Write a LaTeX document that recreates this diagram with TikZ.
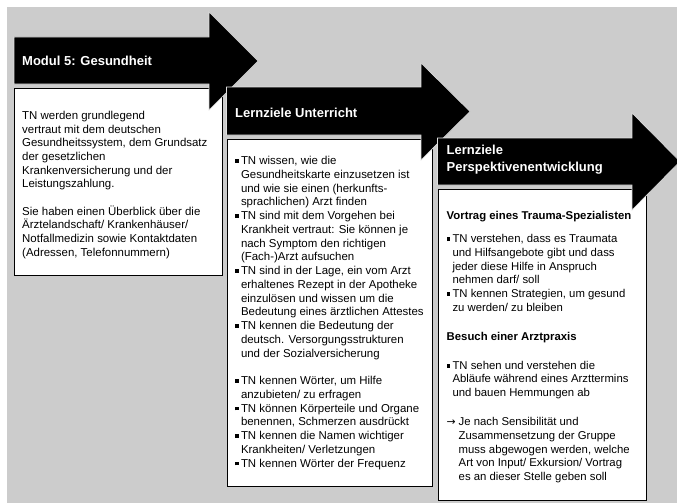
\documentclass[tikz,border=0pt]{standalone}
\usepackage{fontspec}
\setmainfont{Liberation Sans}
\newfontfamily\symfont{DejaVu Sans}
\definecolor{panelgray}{RGB}{204,204,204}
\newcommand{\bodyfont}{\fontsize{11.45}{13.65}\selectfont}
\newcommand{\listfont}{\fontsize{11.45}{13.75}\selectfont}
\newcommand{\notefont}{\fontsize{11.35}{13.7}\selectfont}
\newcommand{\headfont}{\fontsize{13}{17}\selectfont\bfseries}
% bullet and arrow markers with hanging continuation lines
\newlength{\itemind}\setlength{\itemind}{5.8pt}
\newcommand{\sqbul}{\makebox[\itemind][l]{\rule[1.7pt]{3.6pt}{3.6pt}}}
\newcommand{\cont}{\hspace*{\itemind}}
\newlength{\noteind}\setlength{\noteind}{12pt}
\newcommand{\notearrow}{\makebox[\noteind][l]{{\symfont\fontsize{10.8}{10.8}\selectfont →}}}
\newcommand{\notecont}{\hspace*{\noteind}}
\begin{document}
% multi-line text nodes are placed by the baseline of their last line
\begin{tikzpicture}[x=1pt,y=-1pt,
  textbox/.style={fill=white, draw=black, line width=0.9pt},
  bigarrow/.style={fill=black, draw=panelgray!60!white, line width=0.6pt},
  headtext/.style={anchor=base west, inner sep=0pt, text=white, font=\headfont, align=left},
  bodytext/.style={anchor=base west, inner sep=0pt, font=\bodyfont, align=left}]
\useasboundingbox (0,0) rectangle (677,503);
\fill[panelgray] (7,7) rectangle (677,503);

% content panels
\draw[textbox] (14,88) rectangle (222,275);
\draw[textbox] (227,139) rectangle (432.5,486.5);
\draw[textbox] (438,189) rectangle (646.5,500);

% block arrows carrying the stage titles
\draw[bigarrow] (14,37) -- (209,37) -- (209,12) -- (258,61) -- (209,110) -- (209,84) -- (14,84) -- cycle;
\draw[bigarrow] (226.5,87) -- (421,87) -- (421,63) -- (470,111.5) -- (421,160) -- (421,135) -- (226.5,135) -- cycle;
\draw[bigarrow] (437.5,138) -- (632,138) -- (632,113) -- (680,161.5) -- (632,210) -- (632,185) -- (437.5,185) -- cycle;

\node[headtext] (h1) at (22,66) {Modul 5: Gesundheit};
\node[headtext] (h2) at (235,117.3) {Lernziele Unterricht};
\node[headtext] (h3) at (446.5,171) {Lernziele\\Perspektivenentwicklung};

\node[bodytext] (t1) at (22,256) {TN werden grundlegend\\
vertraut mit dem deutschen\\
Gesundheitssystem, dem Grundsatz\\
der gesetzlichen\\
Krankenversicherung und der\\
Leistungszahlung.\\[13.65pt]
Sie haben einen Überblick über die\\
Ärztelandschaft/ Krankenhäuser/\\
Notfallmedizin sowie Kontaktdaten\\
(Adressen, Telefonnummern)};

\node[bodytext, font=\listfont] (t2) at (235,467) {\sqbul TN wissen, wie die\\
\cont Gesundheitskarte einzusetzen ist\\
\cont und wie sie einen (herkunfts-\\
\cont sprachlichen) Arzt finden\\
\sqbul TN sind mit dem Vorgehen bei\\
\cont Krankheit vertraut: Sie können je\\
\cont nach Symptom den richtigen\\
\cont (Fach-)Arzt aufsuchen\\
\sqbul TN sind in der Lage, ein vom Arzt\\
\cont erhaltenes Rezept in der Apotheke\\
\cont einzulösen und wissen um die\\
\cont Bedeutung eines ärztlichen Attestes\\
\sqbul TN kennen die Bedeutung der\\
\cont deutsch. Versorgungsstrukturen\\
\cont und der Sozialversicherung\\[13.75pt]
\sqbul TN kennen Wörter, um Hilfe\\
\cont anzubieten/ zu erfragen\\
\sqbul TN können Körperteile und Organe\\
\cont benennen, Schmerzen ausdrückt\\
\sqbul TN kennen die Namen wichtiger\\
\cont Krankheiten/ Verletzungen\\
\sqbul TN kennen Wörter der Frequenz};

\node[bodytext, font=\notefont] (t3) at (446.5,480.4) {\textbf{Vortrag eines Trauma-Spezialisten}\\[9.5pt]
\sqbul TN verstehen, dass es Traumata\\
\cont und Hilfsangebote gibt und dass\\
\cont jeder diese Hilfe in Anspruch\\
\cont nehmen darf/ soll\\
\sqbul TN kennen Strategien, um gesund\\
\cont zu werden/ zu bleiben\\[15.3pt]
\textbf{Besuch einer Arztpraxis}\\[15.3pt]
\sqbul TN sehen und verstehen die\\
\cont Abläufe während eines Arzttermins\\
\cont und bauen Hemmungen ab\\[15.3pt]
\notearrow Je nach Sensibilität und\\
\notecont Zusammensetzung der Gruppe\\
\notecont muss abgewogen werden, welche\\
\notecont Art von Input/ Exkursion/ Vortrag\\
\notecont es an dieser Stelle geben soll};
\end{tikzpicture}
\end{document}
